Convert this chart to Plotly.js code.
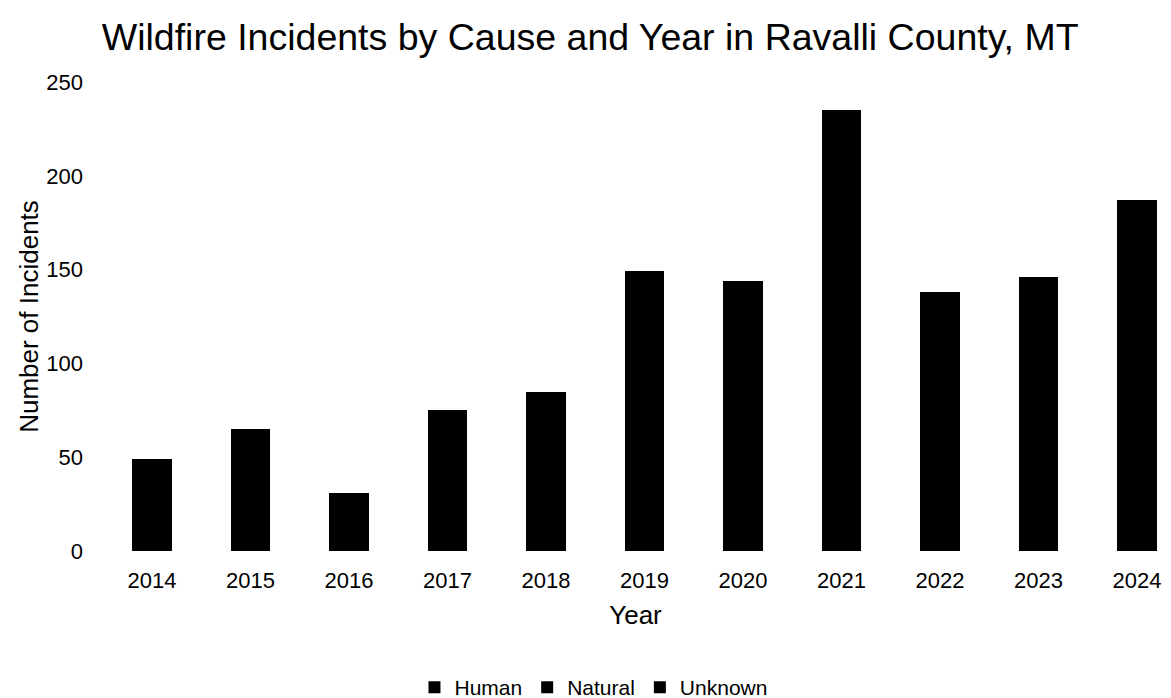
<!DOCTYPE html>
<html>
<head>
<meta charset="utf-8">
<script src="https://cdn.plot.ly/plotly-3.0.1.min.js"></script>
<style>
  html, body { margin: 0; padding: 0; background: #ffffff; }
  #chart { width: 1171px; height: 698px; }
</style>
</head>
<body>
<div id="chart"></div>
<script>
// Wildfire incident counts per year, split by cause
const years = ['2014', '2015', '2016', '2017', '2018', '2019', '2020', '2021', '2022', '2023', '2024'];
const human   = [30, 40, 20, 45, 50, 90, 88, 150, 85, 90, 115];
const natural = [12, 15,  6, 18, 22, 35, 30,  50, 30, 32,  42];
const unknown = [ 7, 10,  5, 12, 13, 24, 26,  35, 23, 24,  30];
const causeNames = ['Human', 'Natural', 'Unknown'];

const font = 'Liberation Sans, Arial, sans-serif';

const seriesValues = [human, natural, unknown];
const traces = seriesValues.map((vals, i) => ({
  type: 'bar',
  name: causeNames[i],
  x: years,
  y: vals,
  marker: { color: '#000000', line: { width: 0 } },
  hoverinfo: 'x+y+name'
}));

const layout = {
  width: 1171,
  height: 698,
  paper_bgcolor: '#ffffff',
  plot_bgcolor: '#ffffff',
  barmode: 'stack',
  bargap: 0.6,
  margin: { l: 110, r: 10, t: 82, b: 147, autoexpand: false },
  font: { family: font, color: '#000000', size: 22 },
  title: {
    text: 'Wildfire Incidents by Cause and Year in Ravalli County, MT',
    font: { family: font, size: 37.5, color: '#000000' },
    x: 0.504, xanchor: 'center',
    y: 0.947, yanchor: 'middle'
  },
  xaxis: {
    type: 'category',
    range: [-0.426, 10.244],
    showgrid: false,
    showline: false,
    zeroline: false,
    ticks: '',
    ticklabelstandoff: 14,
    tickfont: { family: font, size: 22, color: '#000000' },
    title: { text: 'Year', font: { family: font, size: 26, color: '#000000' }, standoff: 13 }
  },
  yaxis: {
    range: [0, 250],
    tickvals: [0, 50, 100, 150, 200, 250],
    showgrid: false,
    showline: false,
    zeroline: false,
    ticks: '',
    ticklabelstandoff: 26,
    tickfont: { family: font, size: 22, color: '#000000' },
    title: { text: 'Number of Incidents', font: { family: font, size: 26, color: '#000000' }, standoff: 0 }
  },
  showlegend: true,
  legend: {
    orientation: 'h',
    x: 0.46, xanchor: 'center',
    yref: 'container',
    y: 0.015, yanchor: 'middle',
    font: { family: font, size: 21, color: '#000000' },
    itemwidth: 30,
    tracegroupgap: 0,
    traceorder: 'normal'
  }
};

Plotly.newPlot('chart', traces, layout, { displayModeBar: false, staticPlot: true });
</script>
</body>
</html>
